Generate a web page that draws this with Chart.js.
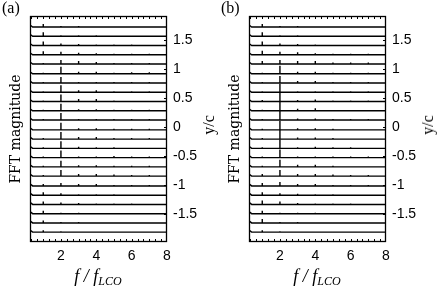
<!DOCTYPE html>
<html>
<head>
<meta charset="utf-8">
<script src="https://cdn.jsdelivr.net/npm/chart.js@4.4.0/dist/chart.umd.min.js"></script>
<style>
  html, body { margin: 0; padding: 0; background: #fff; }
  body { width: 437px; height: 289px; position: relative; overflow: hidden; }
  .panel { position: absolute; top: 0; width: 218px; height: 289px; }
  .panel canvas { position: absolute; left: 0; top: 0; }
  .tag { position: absolute; top: -1px; left: 2px; font: 16px "Liberation Serif", serif; color: #000; }
  .yc { position: absolute; left: 209px; top: 125px; font: 16px "Liberation Serif", serif; color: #000;
        transform: translate(-50%, -50%) rotate(-90deg); white-space: nowrap; }
  .xt { position: absolute; left: 98px; top: 266px; transform: translateX(-50%); line-height: 1;
        font: italic 18px "Liberation Serif", serif; color: #000; white-space: nowrap; }
  .xt sub { font-size: 12px; vertical-align: -3px; }
</style>
</head>
<body>
<div class="panel" style="left:0">
  <canvas id="chartA" width="218" height="289"></canvas>
  <div class="tag">(a)</div>
  <div class="yc">y/c</div>
  <div class="xt">f / f<sub>LCO</sub></div>
</div>
<div class="panel" style="left:219px">
  <canvas id="chartB" width="218" height="289"></canvas>
  <div class="tag">(b)</div>
  <div class="yc">y/c</div>
  <div class="xt">f / f<sub>LCO</sub></div>
</div>
<script>
// frequency axis (f/f_LCO)
const fMin = 0.25;
const fMax = 8;
const harmonics = [1, 2, 3, 4, 5, 6, 7];
const xTicks = [2, 4, 6, 8];

// probe positions (y/c) and the right axis
const yTicks = [-1.5, -1, -0.5, 0, 0.5, 1, 1.5];
const ycMin = -1.99;
const ycMax = 1.92;
const probeYc = [1.73, 1.57, 1.41, 1.25, 1.09, 0.92, 0.76, 0.60, 0.44, 0.28, 0.12, -0.05,
                 -0.21, -0.37, -0.53, -0.69, -0.85, -1.02, -1.18, -1.34, -1.50, -1.66, -1.82];

// FFT magnitude per probe: [lowest bin, f1 .. f7]
const magA = [
  [2, 3, 1, 1, 0.5, 0, 0, 0],
  [2, 4, 1, 1, 1, 0.5, 0.5, 0.5],
  [2, 4, 2, 1.5, 1, 1, 1, 0.5],
  [2, 3.5, 3, 2, 1.5, 1, 1, 1],
  [2, 1, 4, 3, 2, 1, 1, 1],
  [2, 1, 7, 2, 2, 1, 1.5, 1.5],
  [2, 1, 6, 1, 1, 1, 1, 1],
  [2, 1, 7, 2, 2, 1, 1, 1],
  [2, 1, 7, 2.5, 2.5, 1, 0.5, 0.5],
  [2, 1, 7, 1.5, 1.5, 1, 1, 1],
  [2, 1, 7, 1, 1, 1, 1, 1],
  [2, 0.5, 7, 1.5, 1.5, 1, 1, 1],
  [2, 1, 7, 2, 2, 1, 1, 1],
  [2, 1, 7, 1.5, 1, 1, 0.5, 0.5],
  [2, 1, 7, 1, 1, 1.5, 1, 1],
  [2, 1, 6, 1.5, 1.5, 1, 1, 1],
  [2, 1, 6, 2, 2, 1.5, 1, 1],
  [2, 2, 3, 2, 2, 1, 1, 1],
  [2, 3, 2, 1, 1, 1, 0.5, 0.5],
  [2, 3, 2, 1.5, 1, 1, 1, 0.5],
  [2, 3, 1, 1, 0.5, 0.5, 0.5, 0.5],
  [2, 2.5, 1, 1, 0.5, 0.5, 0.5, 0.5],
  [2, 2, 1, 0.5, 0.5, 0.5, 0.5, 0.5]
];
const magB = [
  [2, 3, 1, 1, 0.5, 0, 0, 0],
  [2, 4, 1, 1, 0.5, 0.5, 0.5, 0.5],
  [2, 4, 2, 1.5, 1, 0.5, 0.5, 0.5],
  [2, 4, 3, 2.5, 1.5, 1, 1, 1],
  [2, 3, 4, 3, 3, 1.5, 1.5, 1.5],
  [2, 1, 8, 2, 2, 1, 1, 1],
  [2, 1, 7, 2, 2, 1, 1, 1],
  [2, 1, 8.5, 1, 1, 1, 1, 1],
  [2, 1.5, 9, 1.5, 2, 1, 1, 1],
  [2, 1, 9, 2, 2.5, 0.5, 0.5, 0.5],
  [2, 1, 9, 1.5, 1.5, 1, 1, 1],
  [2, 1, 9, 1.5, 1.5, 1, 0.5, 0.5],
  [2, 1, 9, 1.5, 1.5, 1, 0.5, 0.5],
  [2, 1, 9, 1, 1.5, 1, 1, 0.5],
  [2, 1, 8, 1, 1, 1, 1, 1],
  [2, 1, 7, 2, 2, 1, 0.5, 0.5],
  [2, 2, 6, 2, 2, 1.5, 1, 1],
  [2, 3, 4, 2, 2, 1, 1, 1],
  [2, 3, 2, 1.5, 1, 1, 0.5, 0.5],
  [2, 4, 3, 1.5, 1, 1, 1, 0.5],
  [2, 3, 1, 1, 1, 0.5, 0.5, 0.5],
  [2, 4, 1, 1, 0.5, 0.5, 0.5, 0.5],
  [2, 2, 1, 0.5, 0.5, 0.5, 0.5, 0.5]
];
const magScale = 0.0173; // y/c offset per magnitude unit

// spectrum of one probe, drawn on top of its y/c baseline
function traceData(base, mags) {
  const pts = [{ x: fMin, y: base + mags[0] * magScale }, { x: fMin + 0.15, y: base }];
  harmonics.forEach((h, i) => {
    pts.push({ x: h, y: base }, { x: h, y: base + mags[i + 1] * magScale }, { x: h, y: base });
  });
  pts.push({ x: fMax, y: base });
  return pts;
}

// box round the plot with small inward ticks
const frame = {
  id: 'frame',
  afterDatasetsDraw(chart) {
    const { ctx, chartArea: a, scales } = chart;
    ctx.save();
    ctx.strokeStyle = '#000';
    ctx.lineWidth = 1.3;
    ctx.strokeRect(a.left + 0.5, a.top + 0.5, a.right - a.left - 1, a.bottom - a.top - 1);
    ctx.lineWidth = 1;
    ctx.beginPath();
    for (let k = 1; k < 24; k++) {
      const px = Math.round(scales.x.getPixelForValue(k / 3)) + 0.5;
      ctx.moveTo(px, a.top); ctx.lineTo(px, a.top + 3);
      ctx.moveTo(px, a.bottom); ctx.lineTo(px, a.bottom - 3);
    }
    yTicks.forEach(v => {
      const py = Math.round(scales.y.getPixelForValue(v)) + 0.5;
      ctx.moveTo(a.right, py); ctx.lineTo(a.right - 3, py);
    });
    ctx.stroke();
    ctx.restore();
  }
};

function makeChart(id, mags) {
  const ctx = document.getElementById(id).getContext('2d');
  const datasets = probeYc.map((yc, i) => ({
    data: traceData(yc, mags[i]),
    showLine: true,
    borderColor: '#000',
    borderWidth: 1.4,
    pointRadius: 0,
    tension: 0
  }));

  new Chart(ctx, {
    type: 'scatter',
    data: { datasets: datasets },
    options: {
      responsive: false,
      animation: false,
      events: [],
      layout: { padding: { top: 16, left: 0, right: 0, bottom: 0 } },
      plugins: { legend: { display: false }, tooltip: { enabled: false } },
      scales: {
        x: {
          type: 'linear', position: 'bottom', min: fMin, max: fMax,
          grid: { display: false, drawTicks: false }, border: { display: false },
          afterBuildTicks: s => { s.ticks = xTicks.map(v => ({ value: v })); },
          ticks: { color: '#000', font: { family: '"Liberation Sans", Arial, sans-serif', size: 14 }, padding: 6, maxRotation: 0 },
          afterFit: s => { s.height = 47; }
        },
        y: {
          type: 'linear', position: 'right', min: ycMin, max: ycMax,
          grid: { display: false, drawTicks: false }, border: { display: false },
          afterBuildTicks: s => { s.ticks = yTicks.map(v => ({ value: v })); },
          ticks: { color: '#000', font: { family: '"Liberation Sans", Arial, sans-serif', size: 14 }, padding: 6, callback: v => String(v) },
          afterFit: s => { s.width = 51; }
        },
        yL: {
          type: 'linear', position: 'left', display: true,
          grid: { display: false, drawTicks: false }, border: { display: false },
          ticks: { display: false },
          title: { display: true, text: 'FFT magnitude', color: '#000', font: { family: '"DejaVu Serif", serif', size: 14 }, padding: { top: 8, bottom: 0 } },
          afterFit: s => { s.width = 30; }
        }
      }
    },
    plugins: [frame]
  });
}

makeChart('chartA', magA);
makeChart('chartB', magB);
</script>
</body>
</html>
